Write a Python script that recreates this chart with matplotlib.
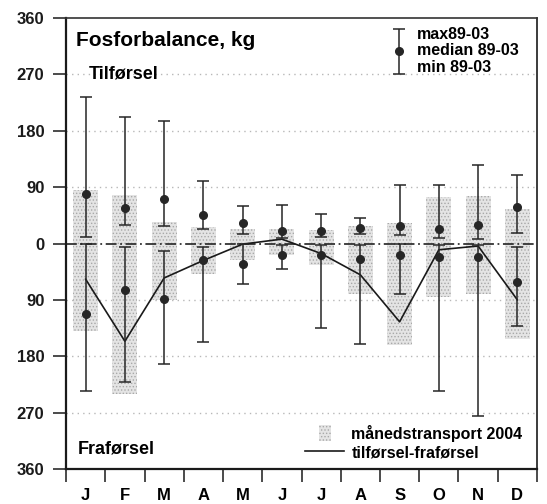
import numpy as np
import matplotlib
matplotlib.use('Agg')
import matplotlib.pyplot as plt
from matplotlib.patches import Rectangle, Patch
from matplotlib.lines import Line2D
from matplotlib.legend_handler import HandlerErrorbar, HandlerPatch

plt.rcParams['font.family'] = ['Liberation Sans', 'DejaVu Sans']
plt.rcParams['font.weight'] = 'bold'
plt.rcParams['hatch.linewidth'] = 0.6

months = ['J', 'F', 'M', 'A', 'M', 'J', 'J', 'A', 'S', 'O', 'N', 'D']

# monthly transport 2004 (kg), tilførsel up, fraførsel down
in_2004 = [86, 78, 34, 26, 23, 23, 22, 28, 32, 74, 76, 55]
out_2004 = [139, 240, 90, 49, 27, 19, 35, 80, 162, 86, 80, 152]
# tilførsel-fraførsel 2004
net_2004 = [-57, -156, -55, -27, -1, 7, -16, -50, -125, -10, -4, -90]

# 1989-2003 statistics, tilførsel
in_max = [234, 202, 196, 99, 60, 62, 47, 41, 94, 93, 126, 109]
in_med = [79, 57, 71, 45, 32, 20, 20, 24, 28, 23, 30, 58]
in_min = [11, 30, 28, 23, 15, 9, 10, 15, 13, 9, 7, 17]
# 1989-2003 statistics, fraførsel
out_max = [236, 221, 193, 158, 65, 40, 135, 161, 80, 235, 276, 131]
out_med = [113, 75, 89, 27, 32, 19, 19, 24, 19, 21, 21, 61]
out_min = [0, 6, 12, 6, 1, 3, 2, 3, 1, 2, 2, 6]

x = np.arange(1, 13)
in_max, in_med, in_min = map(np.array, (in_max, in_med, in_min))
out_max, out_med, out_min = map(np.array, (out_max, out_med, out_min))

fig = plt.figure(figsize=(5.47, 5.04), dpi=100)
ax = fig.add_axes([0.1207, 0.0694, 0.861, 0.8949])

# grid lines
for v in [-270, -180, -90, 90, 180, 270]:
    ax.axhline(v, color='#b8b8b8', lw=1.0, ls=(0, (1, 3)), zorder=0)

bar_kw = dict(width=0.64, facecolor='#e4e4e4', edgecolor='#a8a8a8',
              hatch='.....', linewidth=0, zorder=1)
ax.bar(x, in_2004, **bar_kw)
ax.bar(x, -np.array(out_2004), **bar_kw)

ax.axhline(0, color='#333333', lw=1.3, ls=(0, (6, 2, 1, 2)), zorder=2)

err_kw = dict(fmt='o', color='#262626', ms=5.5, lw=1.1, capsize=4,
              capthick=1.1, zorder=4)
eb = ax.errorbar(x, in_med, yerr=[in_med - in_min, in_max - in_med], **err_kw)
ax.errorbar(x, -out_med, yerr=[out_max - out_med, out_med - out_min], **err_kw)

ax.plot(x, net_2004, color='#1a1a1a', lw=1.2, zorder=3)

ax.set_xlim(0.5, 12.5)
ax.set_ylim(-360, 360)

yt = [-360, -270, -180, -90, 0, 90, 180, 270, 360]
ax.set_yticks(yt)
ax.set_yticklabels([str(abs(v)) for v in yt], fontsize=12, fontweight='bold')
ax.tick_params(axis='y', direction='out', length=9.5, width=1.1, pad=6,
               colors='#1a1a1a')

ax.set_xticks(np.arange(0.5, 13, 1))
ax.set_xticklabels([])
ax.set_xticks(x, minor=True)
ax.set_xticklabels(months, minor=True, fontsize=12, fontweight='bold')
ax.tick_params(axis='x', which='major', direction='out', length=9.5,
               width=1.1, colors='#1a1a1a')
ax.tick_params(axis='x', which='minor', length=0, pad=14)

for s in ['left', 'bottom']:
    ax.spines[s].set_linewidth(1.6)
    ax.spines[s].set_color('#1a1a1a')
ax.spines['right'].set_linewidth(1.2)
ax.spines['right'].set_color('#1a1a1a')
ax.spines['top'].set_linewidth(1.2)
ax.spines['top'].set_linestyle((0, (3, 1)))
ax.spines['top'].set_color('#333333')

ax.text(0.021, 0.9386, 'Fosforbalance, kg', transform=ax.transAxes,
        fontsize=15, fontweight='bold', va='baseline', ha='left')
ax.text(0.049, 0.865, 'Tilførsel', transform=ax.transAxes,
        fontsize=13, fontweight='bold', va='baseline', ha='left')
ax.text(0.025, 0.035, 'Fraførsel', transform=ax.transAxes,
        fontsize=13, fontweight='bold', va='baseline', ha='left')

# legend for the error bars
leg1 = ax.legend([eb], ['max89-03\nmedian 89-03\nmin 89-03'],
                 handler_map={type(eb): HandlerErrorbar(yerr_size=1.4)},
                 loc='upper left', bbox_to_anchor=(0.66, 1.012),
                 frameon=False, fontsize=11.5, handlelength=1.0,
                 handletextpad=0.6, labelspacing=0.1)
for t in leg1.get_texts():
    t.set_linespacing(1.12)
ax.add_artist(leg1)


def narrow_patch(legend, orig_handle, xdescent, ydescent, width, height, fontsize):
    return Rectangle((-xdescent + 0.35 * width, -ydescent - 0.2 * height),
                     0.32 * width, 1.4 * height)


ph = Patch(facecolor='#e4e4e4', edgecolor='#a8a8a8', hatch='.....', linewidth=0)
lh = Line2D([], [], color='#1a1a1a', lw=1.2)
ax.legend([ph, lh], ['månedstransport 2004', 'tilførsel-fraførsel'],
          handler_map={Patch: HandlerPatch(patch_func=narrow_patch)},
          loc='lower right', bbox_to_anchor=(1.0, -0.012), frameon=False,
          fontsize=11.5, handlelength=2.4, handletextpad=0.5, labelspacing=0.2)

fig.savefig('out.png', dpi=100)
